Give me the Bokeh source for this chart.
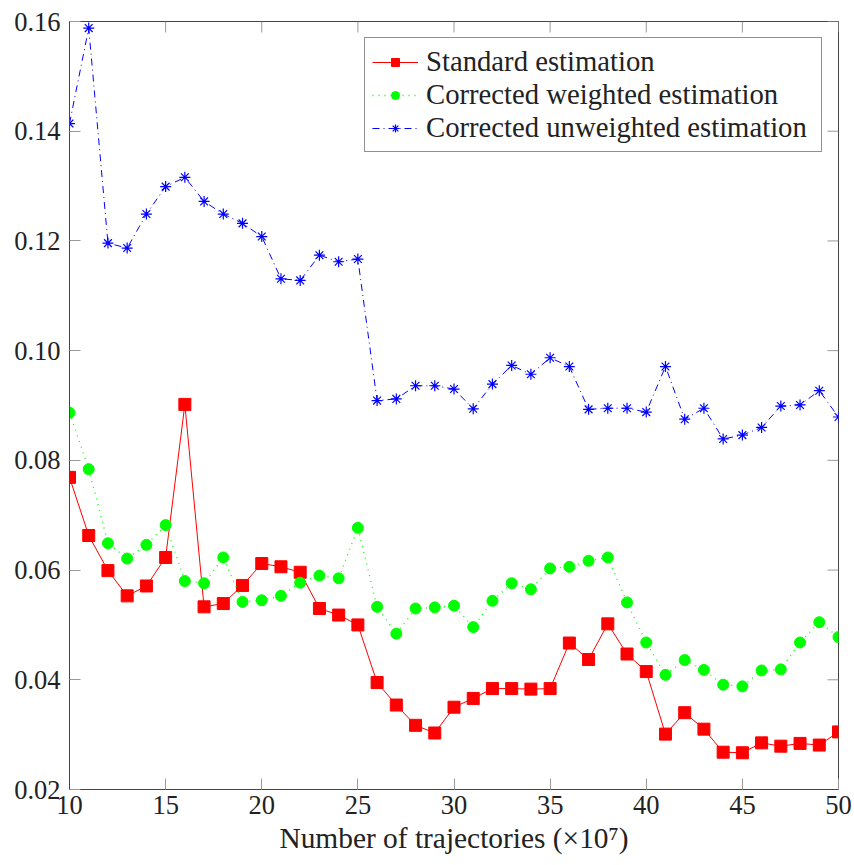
import math
from bokeh.plotting import figure
from bokeh.models import Range1d, FixedTicker, Legend, LegendItem, PrintfTickFormatter
from bokeh.embed import file_html
from bokeh.resources import INLINE

# Number of trajectories (in units of 1e7)
trajectories = list(range(10, 51))

standard = [0.0769, 0.0663, 0.0599, 0.0553, 0.0571, 0.0623, 0.0902, 0.0533, 0.0539, 0.0572,
            0.0612, 0.0606, 0.0596, 0.0530, 0.0518, 0.0500, 0.0395, 0.0354, 0.0317, 0.0303,
            0.0350, 0.0366, 0.0384, 0.0384, 0.0383, 0.0384, 0.0467, 0.0437, 0.0502, 0.0447,
            0.0415, 0.0301, 0.0340, 0.0310, 0.0268, 0.0267, 0.0285, 0.0279, 0.0284, 0.0281,
            0.0305]

corrected_weighted = [0.0887, 0.0784, 0.0649, 0.0621, 0.0646, 0.0682, 0.0580, 0.0576, 0.0623, 0.0542,
                      0.0545, 0.0553, 0.0577, 0.0590, 0.0585, 0.0677, 0.0533, 0.0484, 0.0530, 0.0532,
                      0.0535, 0.0496, 0.0544, 0.0576, 0.0565, 0.0603, 0.0606, 0.0617, 0.0623, 0.0541,
                      0.0468, 0.0409, 0.0436, 0.0418, 0.0391, 0.0388, 0.0417, 0.0419, 0.0468, 0.0505,
                      0.0478]

corrected_unweighted = [0.1414, 0.1588, 0.1196, 0.1187, 0.1249, 0.1299, 0.1316, 0.1272, 0.1249, 0.1232,
                        0.1208, 0.1131, 0.1128, 0.1174, 0.1162, 0.1167, 0.0909, 0.0912, 0.0936, 0.0936,
                        0.0930, 0.0894, 0.0939, 0.0973, 0.0957, 0.0987, 0.0971, 0.0893, 0.0895, 0.0895,
                        0.0888, 0.0971, 0.0875, 0.0895, 0.0839, 0.0846, 0.0860, 0.0899, 0.0901, 0.0927,
                        0.0879]

x_ticks = [10, 15, 20, 25, 30, 35, 40, 45, 50]
y_ticks = [0.02, 0.04, 0.06, 0.08, 0.10, 0.12, 0.14, 0.16]

series_names = ["Standard estimation", "Corrected weighted estimation", "Corrected unweighted estimation"]

FONT = "Liberation Serif"
AXIS_COL = "#444444"
TICK_COL = "#999999"
TEXT_COL = "#222222"

x_lo, x_hi = 10, 50
y_lo, y_hi = 0.02, 0.16

p = figure(width=854, height=865, output_backend="svg", toolbar_location=None,
           x_range=Range1d(x_lo, x_hi), y_range=Range1d(y_lo, y_hi),
           min_border_left=69, min_border_right=16, min_border_top=21, min_border_bottom=76)
p.background_fill_color = "white"
p.border_fill_color = "white"
p.xgrid.visible = False
p.ygrid.visible = False
p.outline_line_color = AXIS_COL
p.outline_line_width = 1

for ax, ticks in ((p.xaxis[0], x_ticks), (p.yaxis[0], y_ticks)):
    ax.ticker = FixedTicker(ticks=ticks)
    ax.axis_line_color = AXIS_COL
    ax.major_tick_line_color = TICK_COL
    ax.major_tick_in = 11
    ax.major_tick_out = 0
    ax.minor_tick_line_color = None
    ax.major_label_text_font = FONT
    ax.major_label_text_font_size = "26.5px"
    ax.major_label_text_color = TEXT_COL

p.yaxis[0].formatter = PrintfTickFormatter(format="%.2f")
p.yaxis[0].major_label_standoff = 9
p.xaxis[0].major_label_standoff = 6
p.xaxis[0].axis_label = "Number of trajectories (\u00d710\u2077)"
p.xaxis[0].axis_label_text_font = FONT
p.xaxis[0].axis_label_text_font_size = "29.4px"
p.xaxis[0].axis_label_text_font_style = "normal"
p.xaxis[0].axis_label_text_color = TEXT_COL
p.xaxis[0].axis_label_standoff = 5

# mirrored inward ticks along the top and right edges of the frame
p.ray(x=x_ticks, y=[y_hi] * len(x_ticks), length=11, length_units="screen",
      angle=-math.pi / 2, line_color=TICK_COL, line_width=1)
p.ray(x=[x_hi] * len(y_ticks), y=y_ticks, length=11, length_units="screen",
      angle=math.pi, line_color=TICK_COL, line_width=1)

r1 = p.line(trajectories, standard, line_color="#ff0000", line_width=1)
m1 = p.scatter(trajectories, standard, marker="square", size=12,
               fill_color="#ff0000", line_color="#ff0000")

r2 = p.line(trajectories, corrected_weighted, line_color="#00ff00", line_width=1.3, line_dash="1 5")
m2 = p.scatter(trajectories, corrected_weighted, marker="circle", size=11,
               fill_color="#00ff00", line_color="#00ff00")

r3 = p.line(trajectories, corrected_unweighted, line_color="#0000ff", line_width=1, line_dash="7 4 1 4")
m3 = p.scatter(trajectories, corrected_unweighted, marker="asterisk", size=11,
               line_color="#0000ff", line_width=1.2)

legend = Legend(items=[LegendItem(label=series_names[0], renderers=[r1, m1]),
                       LegendItem(label=series_names[1], renderers=[r2, m2]),
                       LegendItem(label=series_names[2], renderers=[r3, m3])],
                location="top_right", margin=16, padding=7, spacing=0,
                glyph_width=46, glyph_height=20, label_standoff=8, label_width=388,
                label_text_font=FONT, label_text_font_size="28.7px", label_text_color=TEXT_COL,
                border_line_color=TEXT_COL, border_line_width=1,
                background_fill_color="white", background_fill_alpha=1.0)
p.add_layout(legend, "center")

open("out.html", "w").write(file_html(p, INLINE))
